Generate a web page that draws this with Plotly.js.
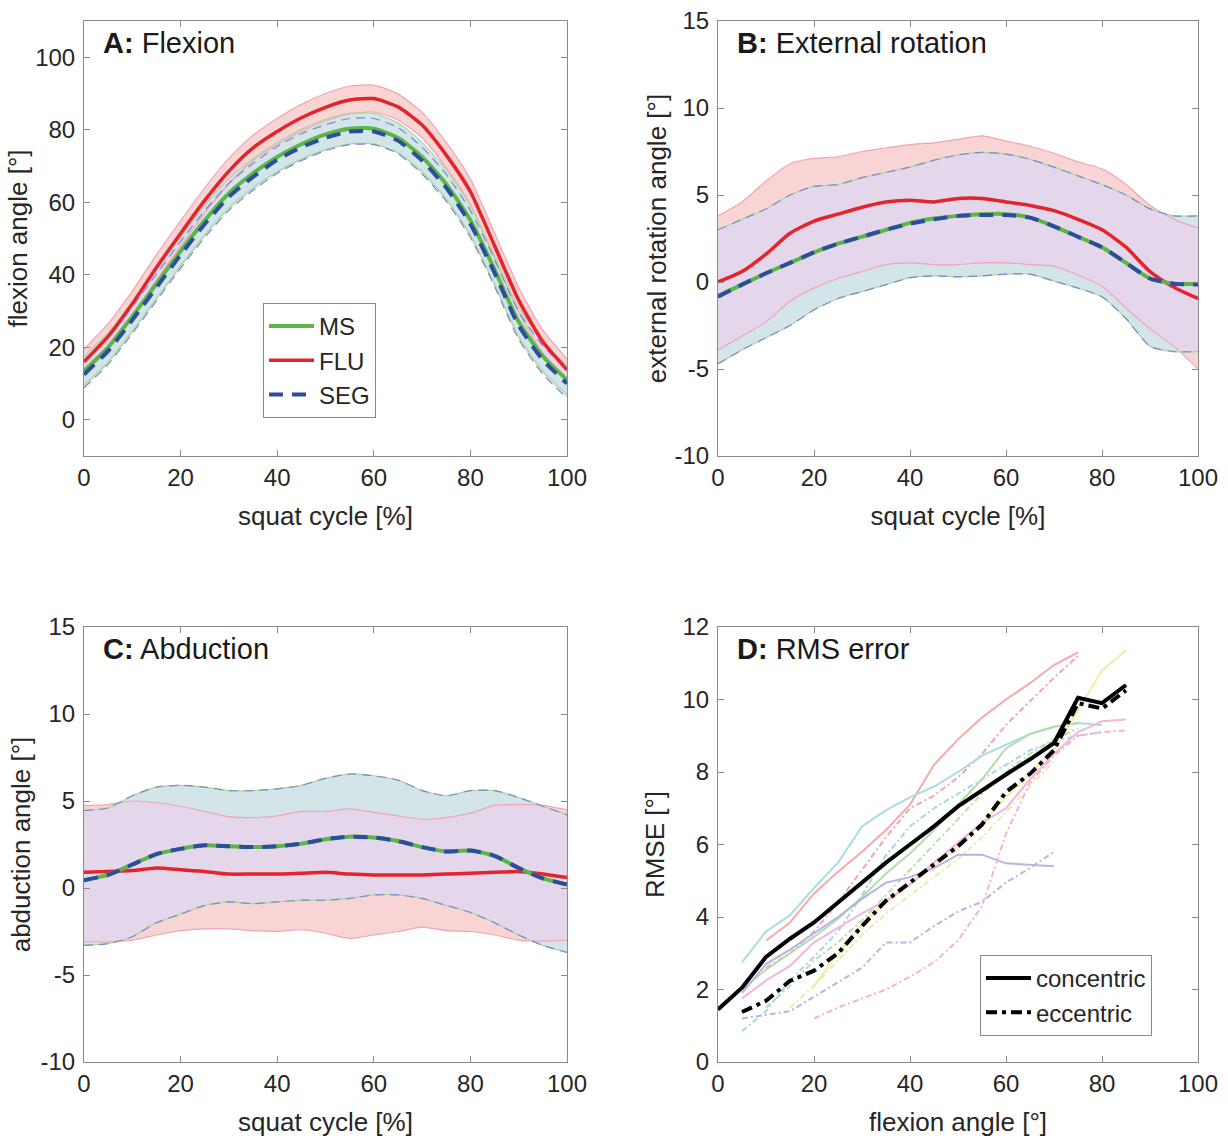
<!DOCTYPE html>
<html><head><meta charset="utf-8">
<script src="https://cdn.plot.ly/plotly-3.0.1.min.js"></script>
<style>body{margin:0;background:#fff}#chart{width:1228px;height:1138px}</style>
</head><body><div id="chart"></div>
<script>
// ---------- DATA ----------
const cycle = [0,5,10,15,20,25,30,35,40,45,50,55,60,65,70,75,80,85,90,95,100];

// Panel A: flexion (mean and SD)
const A_MS   = [13.5,20,28.5,37.5,46.5,55,62.5,68,72.5,76,78.7,80.3,80.3,77.8,72.5,65,55,41.5,27,17.5,11];
const A_FLU  = [16,23,32,42,51.4,60.5,68.6,75,79.5,83.3,86.2,88.2,88.6,86.3,81.3,73,62.9,48,33,21.5,13.8];
const A_SEG  = [12.5,19,27.5,36.5,45.5,54,61.5,67,71.7,75.2,77.8,79.5,79.5,77,71.5,64,54,40.5,26,16.5,10];
const A_MS_sd  = [4,4,4,4,4,4,4,4,4,4.1,4.2,4.2,4.2,4.1,4,4,4,4,4,4,4];
const A_FLU_sd = [3.5,3.5,3.5,3.5,3.5,3.5,3.5,3.5,3.6,3.7,3.8,3.8,3.7,3.6,3.5,3.5,3.5,3.5,3.5,3.2,3];
const A_SEG_sd = [3.7,3.7,3.7,3.7,3.7,3.7,3.7,3.7,3.7,3.7,3.6,3.6,3.6,3.6,3.7,3.7,3.7,3.7,3.8,3.9,4];

// Panel B: external rotation (means and band limits)
const B_MS   = [-0.8,-0.15,0.5,1.1,1.7,2.2,2.6,3.0,3.4,3.65,3.8,3.9,3.9,3.7,3.2,2.6,2.0,1.1,0.2,-0.1,-0.1];
const B_FLU  = [0.0,0.6,1.6,2.8,3.5,3.9,4.3,4.6,4.7,4.6,4.8,4.8,4.6,4.4,4.1,3.6,3.0,2.0,0.6,-0.3,-0.95];
const B_SEG  = [-0.85,-0.15,0.5,1.1,1.7,2.2,2.6,3.0,3.35,3.6,3.8,3.85,3.85,3.7,3.2,2.6,2.0,1.1,0.2,-0.1,-0.15];
const B_FLU_hi = [3.8,4.6,5.8,6.8,7.1,7.2,7.5,7.7,7.9,8.0,8.2,8.4,8.1,7.8,7.4,6.9,6.5,5.6,4.4,3.6,3.1];
const B_FLU_lo = [-3.9,-3.1,-2.3,-1.1,-0.35,0.2,0.6,1.0,1.1,1.0,1.0,1.1,1.1,1.0,0.9,0.4,-0.25,-1.5,-2.7,-3.7,-5.0];
const B_SEG_hi = [3.0,3.6,4.2,5.0,5.5,5.6,6.0,6.3,6.6,7.0,7.3,7.45,7.35,7.05,6.6,6.1,5.6,5.0,4.2,3.8,3.8];
const B_SEG_lo = [-4.7,-3.9,-3.2,-2.5,-1.6,-0.95,-0.55,-0.15,0.25,0.35,0.3,0.35,0.45,0.45,0.05,-0.35,-0.85,-2.1,-3.7,-4.0,-4.0];

// Panel C: abduction
const C_MS   = [0.45,0.75,1.35,1.95,2.25,2.45,2.4,2.35,2.4,2.55,2.8,2.95,2.9,2.7,2.35,2.1,2.15,1.85,1.15,0.55,0.2];
const C_FLU  = [0.9,0.95,1.0,1.15,1.05,0.95,0.8,0.8,0.8,0.85,0.9,0.8,0.75,0.75,0.75,0.8,0.85,0.9,0.95,0.8,0.6];
const C_SEG  = [0.45,0.75,1.35,1.95,2.25,2.45,2.4,2.35,2.4,2.55,2.8,2.95,2.9,2.7,2.35,2.1,2.15,1.85,1.15,0.55,0.2];
const C_FLU_hi = [4.75,4.8,5.0,4.9,4.7,4.4,4.1,4.05,4.15,4.4,4.4,4.55,4.35,4.15,3.95,4.05,4.3,4.75,4.8,4.75,4.5];
const C_FLU_lo = [-3.1,-3.1,-3.0,-2.7,-2.45,-2.35,-2.35,-2.45,-2.5,-2.4,-2.6,-2.9,-2.7,-2.5,-2.25,-2.45,-2.5,-2.7,-3.0,-3.05,-3.0];
const C_SEG_hi = [4.45,4.6,5.3,5.8,5.9,5.8,5.6,5.6,5.7,5.9,6.3,6.55,6.45,6.2,5.6,5.3,5.6,5.6,5.2,4.7,4.2];
const C_SEG_lo = [-3.3,-3.2,-2.8,-2.0,-1.5,-1.0,-0.8,-0.9,-0.8,-0.7,-0.7,-0.6,-0.4,-0.4,-0.6,-1.0,-1.4,-2.0,-2.7,-3.3,-3.7];

// Panel D: RMS error vs flexion angle
const D_conc_x = [0,5,10,15,20,25,30,35,40,45,50,55,60,65,70,75,80,85];
const D_conc   = [1.45,2.05,2.9,3.4,3.85,4.4,4.95,5.5,6.0,6.5,7.05,7.5,7.93,8.35,8.8,10.05,9.9,10.4];
const D_ecc_x  = [5,10,15,20,25,30,35,40,45,50,55,60,65,70,75,80,85];
const D_ecc    = [1.38,1.69,2.24,2.52,3.0,3.75,4.45,4.95,5.45,5.95,6.55,7.45,7.95,8.6,9.9,9.75,10.25];

const D_salmon_x  = [10,15,20,25,30,35,40,45,50,55,60,65,70,75];
const D_salmon_c  = [3.35,3.85,4.65,5.25,5.8,6.4,7.1,8.2,8.9,9.5,10.0,10.45,10.95,11.3];
const D_salmon_e  = [2.6,3.0,3.6,4.4,5.3,6.2,7.0,7.35,7.85,8.5,9.3,9.95,10.6,11.2];
const D_cyan_x    = [5,10,15,20,25,30,35,40,45,50,55,60,65,70,75,80];
const D_cyan_c    = [2.75,3.6,4.05,4.8,5.5,6.5,6.95,7.3,7.6,8.0,8.45,8.75,9.05,9.25,9.35,9.3];
const D_cyan_e    = [0.85,1.4,2.25,2.9,3.6,4.6,5.7,6.5,7.0,7.4,7.8,8.2,8.6,8.85,9.0,9.1];
const D_green_cx  = [5,10,15,20,25,30,35,40,45,50,55,60,65,70,75];
const D_green_c   = [2.0,2.55,3.0,3.45,3.95,4.55,5.2,5.75,6.4,7.1,7.8,8.65,9.05,9.25,9.35];
const D_green_ex  = [10,15,20,25,30,35,40,45,50,55,60,65,70,75];
const D_green_e   = [1.5,2.1,2.8,3.3,3.9,4.6,5.3,6.0,6.7,7.4,8.0,8.5,8.9,9.2];
const D_yellow_cx = [20,25,30,35,40,45,50,55,60,65,70,75,80,85];
const D_yellow_c  = [2.1,3.0,3.8,4.4,4.9,5.4,5.95,6.6,7.3,7.95,8.6,9.7,10.8,11.35];
const D_yellow_ex = [15,20,25,30,35,40,45,50,55,60,65,70];
const D_yellow_e  = [1.5,2.1,2.8,3.5,4.1,4.6,5.1,5.6,6.2,6.9,7.6,8.3];
const D_lav_x     = [5,10,15,20,25,30,35,40,45,50,55,60,65,70];
const D_lav_c     = [1.9,2.7,3.1,3.55,4.0,4.5,4.95,5.1,5.35,5.72,5.72,5.48,5.45,5.4];
const D_lav_e     = [1.2,1.3,1.4,1.8,2.2,2.6,3.3,3.3,3.75,4.15,4.42,4.95,5.35,5.8];
const D_pink_cx   = [5,10,15,20,25,30,35,40,45,50,55,60,65,70,75,80,85];
const D_pink_c    = [1.75,2.25,2.65,3.3,3.7,4.1,4.45,4.9,5.5,6.05,6.6,7.0,7.8,8.5,9.1,9.4,9.45];
const D_pink_ex   = [20,25,30,35,40,45,50,55,60,65,70,75,80,85];
const D_pink_e    = [1.2,1.5,1.75,2.0,2.35,2.75,3.35,4.3,6.3,7.7,8.45,9.0,9.1,9.15];

// tick labels (hyphen minus as in the figure)
const tickAngle = [-10,-5,0,5,10,15];
const tickAngleText = ['-10','-5','0','5','10','15'];

// ---------- STYLE ----------
const FONT = 'Liberation Sans, Arial, sans-serif';
const TXT = '#262626';
const C_GREEN = '#5cb646', C_RED = '#e4232a', C_BLUE = '#2c4d9d';
const F_PINK = '#f9d4d4', F_TEAL = '#d4e5ea', F_LAV = '#e5d7eb';
const E_PINK = '#f2a4b0', E_GREEN = '#a9d9a0', E_BLUE = '#7d88c8';

const traces = [];
const add = t => traces.push(Object.assign({type:'scatter', mode:'lines', showlegend:false, hoverinfo:'skip'}, t));
const sh = {shape:'spline', smoothing:0.6};

function band(xa, ya, lo, hi, color){
  add({x:cycle, y:lo, xaxis:xa, yaxis:ya, line:Object.assign({width:0, color:color}, sh)});
  add({x:cycle, y:hi, xaxis:xa, yaxis:ya, fill:'tonexty', fillcolor:color, line:Object.assign({width:0, color:color}, sh)});
}
function edge(xa, ya, arr, color, dash){
  add({x:cycle, y:arr, xaxis:xa, yaxis:ya, line:Object.assign({width:1.2, color:color, dash:dash||'solid'}, sh)});
}
function panel(xa, ya, flu, fluLo, fluHi, ms, msLo, msHi, seg, segLo, segHi, legend){
  const uLo = cycle.map((_, i) => Math.min(msLo[i], segLo[i]));
  const uHi = cycle.map((_, i) => Math.max(msHi[i], segHi[i]));
  const iLo = cycle.map((_, i) => Math.max(fluLo[i], uLo[i]));
  const iHi = cycle.map((_, i) => Math.max(iLo[i], Math.min(fluHi[i], uHi[i])));
  band(xa, ya, fluLo, fluHi, F_PINK);
  band(xa, ya, uLo, uHi, F_TEAL);
  band(xa, ya, iLo, iHi, F_LAV);
  edge(xa, ya, fluLo, E_PINK); edge(xa, ya, fluHi, E_PINK);
  edge(xa, ya, msLo, E_GREEN); edge(xa, ya, msHi, E_GREEN);
  edge(xa, ya, segLo, E_BLUE, '9px,6px'); edge(xa, ya, segHi, E_BLUE, '9px,6px');
  add({x:cycle, y:flu, xaxis:xa, yaxis:ya, name:'FLU', line:Object.assign({width:3.5, color:C_RED}, sh), showlegend:legend, legendrank:2});
  add({x:cycle, y:ms, xaxis:xa, yaxis:ya, name:'MS', line:Object.assign({width:4, color:C_GREEN}, sh), showlegend:legend, legendrank:1});
  add({x:cycle, y:seg, xaxis:xa, yaxis:ya, name:'SEG', line:Object.assign({width:4, color:C_BLUE, dash:'14px,9px'}, sh), showlegend:legend, legendrank:3});
}

const sub = (a, s) => a.map((v, i) => v - s[i]);
const sum = (a, s) => a.map((v, i) => v + s[i]);

panel('x','y', A_FLU, sub(A_FLU,A_FLU_sd), sum(A_FLU,A_FLU_sd),
      A_MS, sub(A_MS,A_MS_sd), sum(A_MS,A_MS_sd),
      A_SEG, sub(A_SEG,A_SEG_sd), sum(A_SEG,A_SEG_sd), true);
panel('x2','y2', B_FLU, B_FLU_lo, B_FLU_hi, B_MS, B_SEG_lo, B_SEG_hi, B_SEG, B_SEG_lo, B_SEG_hi, false);
panel('x3','y3', C_FLU, C_FLU_lo, C_FLU_hi, C_MS, C_SEG_lo, C_SEG_hi, C_SEG, C_SEG_lo, C_SEG_hi, false);

// Panel D
const thinDash = '6px,3px,2px,3px';
function dline(x, y, color, dash){
  add({x:x, y:y, xaxis:'x4', yaxis:'y4', line:{width:2, color:color, dash:dash||'solid'}});
}
dline(D_salmon_x, D_salmon_c, '#f6a9a9'); dline(D_salmon_x, D_salmon_e, '#f3a3b4', thinDash);
dline(D_cyan_x, D_cyan_c, '#a9dce5'); dline(D_cyan_x, D_cyan_e, '#a4d6e6', thinDash);
dline(D_green_cx, D_green_c, '#b4dcaa'); dline(D_green_ex, D_green_e, '#b9ddb0', thinDash);
dline(D_yellow_cx, D_yellow_c, '#f1eda3'); dline(D_yellow_ex, D_yellow_e, '#eeeaa6', thinDash);
dline(D_lav_x, D_lav_c, '#b8b3e0'); dline(D_lav_x, D_lav_e, '#bab4e4', thinDash);
dline(D_pink_cx, D_pink_c, '#f1b6da'); dline(D_pink_ex, D_pink_e, '#f4b2d3', thinDash);
add({x:D_conc_x, y:D_conc, xaxis:'x4', yaxis:'y4', name:'concentric', line:{width:4, color:'#000'}, showlegend:true, legend:'legend2'});
add({x:D_ecc_x, y:D_ecc, xaxis:'x4', yaxis:'y4', name:'eccentric', line:{width:4, color:'#000', dash:'11px,5px,4px,5px'}, showlegend:true, legend:'legend2'});

// ---------- LAYOUT ----------
const XL = [84/1228, 567/1228], XR = [718/1228, 1198/1228];
const YT = [1-456/1138, 1-21/1138], YB = [1-1062/1138, 1-627/1138];
function ax(extra){
  return Object.assign({
    showline:true, linecolor:'#8a8a8a', linewidth:1, mirror:'ticks',
    ticks:'inside', ticklen:6, tickcolor:'#8a8a8a', tickwidth:1,
    showgrid:false, zeroline:false, fixedrange:true,
    tickfont:{family:FONT, size:24, color:TXT}
  }, extra);
}
const tfont = {family:FONT, size:26, color:TXT};
const xCommon = {range:[0,100], dtick:20, ticklabelstandoff:0};
const layout = {
  width:1228, height:1138, margin:{l:0,r:0,t:0,b:0},
  paper_bgcolor:'#fff', plot_bgcolor:'#fff',
  font:{family:FONT, color:TXT},
  xaxis:  ax(Object.assign({domain:XL, anchor:'y',  title:{text:'squat cycle [%]', font:tfont, standoff:17}}, xCommon)),
  yaxis:  ax({domain:YT, anchor:'x',  range:[-10,110], tickvals:[0,20,40,60,80,100], ticklabelstandoff:3, title:{text:'flexion angle [°]', font:tfont, standoff:0}}),
  xaxis2: ax(Object.assign({domain:XR, anchor:'y2', title:{text:'squat cycle [%]', font:tfont, standoff:17}}, xCommon)),
  yaxis2: ax({domain:YT, anchor:'x2', range:[-10,15], tickvals:tickAngle, ticktext:tickAngleText, ticklabelstandoff:3, title:{text:'external rotation angle [°]', font:tfont, standoff:0}}),
  xaxis3: ax(Object.assign({domain:XL, anchor:'y3', title:{text:'squat cycle [%]', font:tfont, standoff:17}}, xCommon)),
  yaxis3: ax({domain:YB, anchor:'x3', range:[-10,15], tickvals:tickAngle, ticktext:tickAngleText, ticklabelstandoff:3, title:{text:'abduction angle [°]', font:tfont, standoff:2}}),
  xaxis4: ax(Object.assign({domain:XR, anchor:'y4', title:{text:'flexion angle [°]', font:tfont, standoff:17}}, xCommon)),
  yaxis4: ax({domain:YB, anchor:'x4', range:[0,12], dtick:2, ticklabelstandoff:3, title:{text:'RMSE [°]', font:tfont, standoff:10}}),
  legend: {x:263/1228, y:1-303/1138, xanchor:'left', yanchor:'top', bgcolor:'#fff', bordercolor:'#8a8a8a', borderwidth:1,
           font:{family:FONT, size:24, color:TXT}, itemwidth:45, traceorder:'normal'},
  legend2:{x:980/1228, y:1-955/1138, xanchor:'left', yanchor:'top', bgcolor:'#fff', bordercolor:'#8a8a8a', borderwidth:1,
           font:{family:FONT, size:24, color:TXT}, itemwidth:45, traceorder:'normal'},
  annotations: [
    ['x','y','<b>A:</b> Flexion'], ['x2','y2','<b>B:</b> External rotation'],
    ['x3','y3','<b>C:</b> Abduction'], ['x4','y4','<b>D:</b> RMS error']
  ].map(([xa,ya,t]) => ({xref:xa+' domain', yref:ya+' domain', x:0.036, y:0.95, xanchor:'left', yanchor:'middle',
       text:t, showarrow:false, font:{family:FONT, size:29, color:'#1a1a1a'}}))
};
Plotly.newPlot('chart', traces, layout, {staticPlot:true});
</script>
</body></html>
